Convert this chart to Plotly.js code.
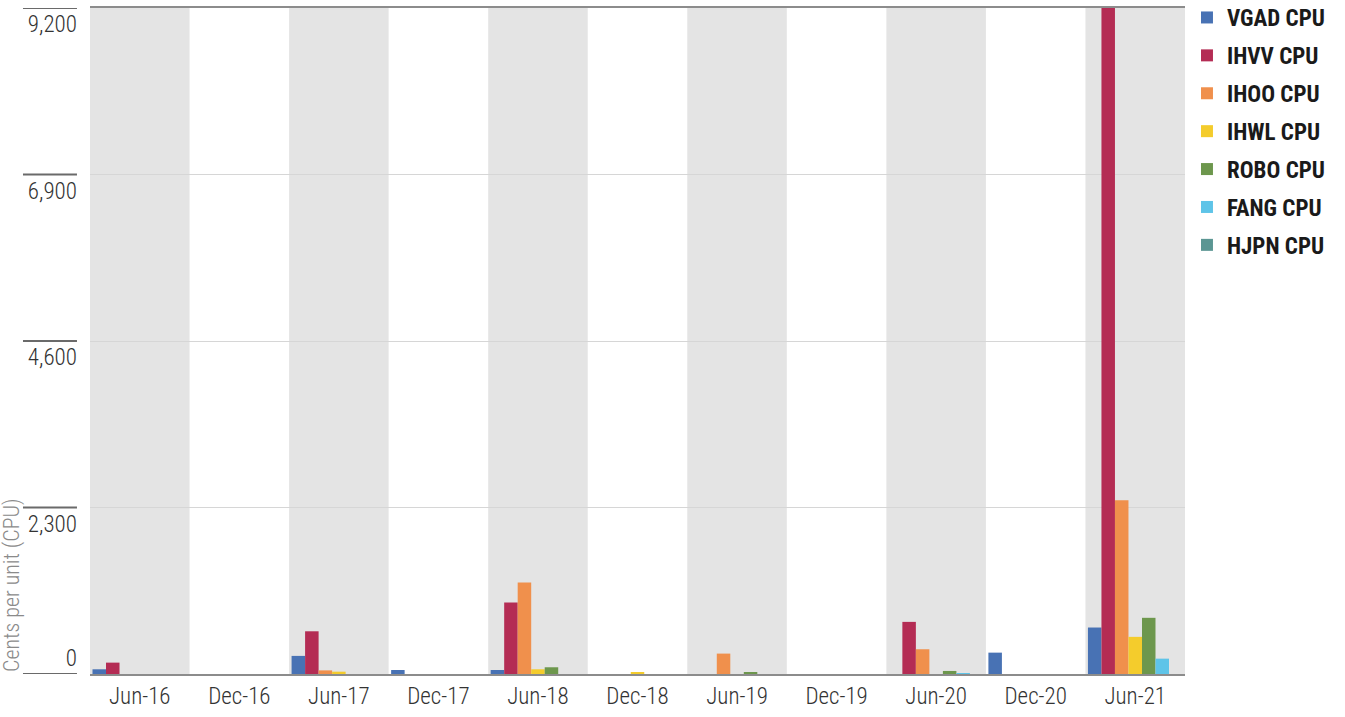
<!DOCTYPE html>
<html>
<head>
<meta charset="utf-8">
<script src="https://cdn.plot.ly/plotly-3.0.1.min.js"></script>
<style>html,body{margin:0;padding:0;background:#fff;}#chart{width:1345px;height:717px;}</style>
</head>
<body>
<div id="chart"></div>
<script>
var categories = ["Jun-16","Dec-16","Jun-17","Dec-17","Jun-18","Dec-18","Jun-19","Dec-19","Jun-20","Dec-20","Jun-21"];
var seriesNames = ["VGAD CPU","IHVV CPU","IHOO CPU","IHWL CPU","ROBO CPU","FANG CPU","HJPN CPU"];
var VGAD = [65, 0, 250, 55, 55, 0, 0, 0, 0, 295, 642];
var IHVV = [157, 0, 590, 0, 988, 0, 0, 0, 720, 0, 9500];
var IHOO = [0, 0, 50, 0, 1265, 0, 282, 0, 342, 0, 2401];
var IHWL = [0, 0, 32, 0, 65, 20, 0, 0, 0, 0, 513];
var ROBO = [0, 0, 0, 0, 93, 0, 15, 0, 42, 0, 776];
var FANG = [0, 0, 0, 0, 0, 0, 0, 0, 8, 0, 212];
var HJPN = [0, 0, 0, 0, 0, 0, 0, 0, 0, 0, 0];
var seriesValues = [VGAD, IHVV, IHOO, IHWL, ROBO, FANG, HJPN];
var colors = ["#4872b4","#b42c54","#f0904c","#f4cc2c","#6d974d","#5ec4e8","#5b9693"];
var yTickVals = [2300, 4600, 6900, 9200];
var yTickText = ["2,300", "4,600", "6,900", "9,200"];
var yZeroVal = [0];
var yZeroText = ["0"];
var yMax = 9200;
var yTitle = "Cents per unit (CPU)";

var FONT = "'Roboto Condensed', 'Liberation Sans Narrow', 'Arial Narrow', 'DejaVu Sans Condensed', sans-serif";
var TICKFONT = {family:FONT, size:23, color:'#333333', weight:300};

var traces = seriesNames.map(function(n, i){
  return {type:'bar', name:n, x:categories, y:seriesValues[i], legendgroup:'g'+i,
    marker:{color:colors[i], line:{width:0}}, hoverinfo:'x+y+name'};
});
traces.push({type:'scatter', x:[], y:[], yaxis:'y2', showlegend:false, hoverinfo:'skip'});

var shapes = [];
categories.forEach(function(c, i){
  if (i % 2 === 0) {
    shapes.push({type:'rect', xref:'x', yref:'paper', x0:i-0.5, x1:i+0.5, y0:0, y1:1,
      fillcolor:'#e4e4e4', line:{width:0}, layer:'below'});
  }
});
yZeroVal.concat(yTickVals).forEach(function(v){
  shapes.push({type:'line', xref:'paper', yref:'y', x0:-0.0612, x1:-0.0119, y0:v, y1:v,
    line:{color:'#6a6a6a', width:2}});
});

var layout = {
  width:1345, height:717,
  margin:{l:90, r:160, t:8, b:43, autoexpand:false},
  paper_bgcolor:'#ffffff', plot_bgcolor:'#ffffff',
  font:{family:FONT, size:23, color:'#333333'},
  barmode:'group', bargap:0.05, bargroupgap:0,
  showlegend:true,
  legend:{x:1.0018, xanchor:'left', y:1.018, yanchor:'top', tracegroupgap:5,
    font:{family:FONT, size:23, color:'#1a1a1a', weight:'bold'}, bgcolor:'rgba(0,0,0,0)'},
  xaxis:{type:'category', showgrid:false, zeroline:false, showline:true, linecolor:'#8c8c8c', linewidth:2,
    mirror:true, ticks:'', tickfont:TICKFONT, fixedrange:true},
  yaxis:{range:[0, yMax], tickvals:yTickVals, ticktext:yTickText, showgrid:true, gridcolor:'#d6d6d6', gridwidth:1,
    zeroline:false, showline:false, ticks:'', ticklabelposition:'outside bottom', ticklabelstandoff:12,
    tickfont:TICKFONT, fixedrange:true},
  yaxis2:{overlaying:'y', matches:'y', range:[0, yMax], tickvals:yZeroVal, ticktext:yZeroText, showgrid:false,
    zeroline:false, showline:false, ticks:'', ticklabelposition:'outside top', ticklabelstandoff:12, side:'left',
    tickfont:TICKFONT, fixedrange:true},
  shapes:shapes,
  annotations:[{text:yTitle, xref:'paper', yref:'paper', x:-0.0712, y:0, xanchor:'center', yanchor:'bottom',
    textangle:-90, showarrow:false, font:{family:FONT, size:22, color:'#8a8a8a', weight:300}}]
};

Plotly.newPlot('chart', traces, layout, {displayModeBar:false});
</script>
</body>
</html>
